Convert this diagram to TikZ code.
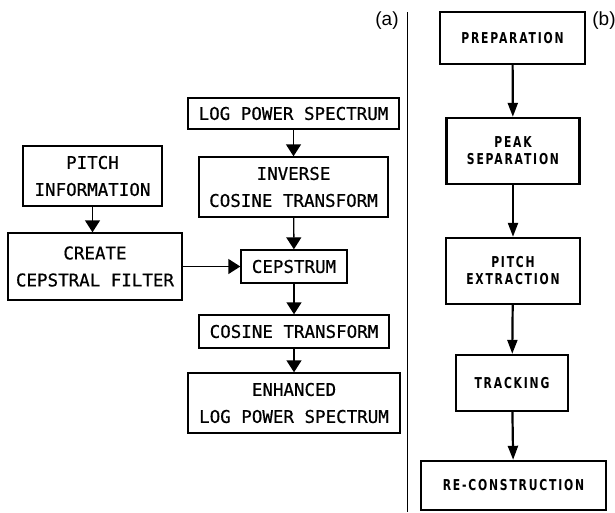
\documentclass[tikz,border=0pt]{standalone}
\usepackage{fontspec}
\setmainfont{Liberation Sans}
\newfontfamily\plotfont[FakeBold=0.6]{DejaVu Sans Mono}
\newfontfamily\boldlabel[FakeStretch=0.72,LetterSpace=12]{DejaVu Sans Bold}
\usetikzlibrary{arrows.meta}
\begin{document}
\begin{tikzpicture}[x=1pt,y=-1pt,
  abox/.style={draw,line width=1.4pt,inner sep=0pt,align=center,
    font=\plotfont\fontsize{17.5}{27}\selectfont},
  bbox/.style={draw,line width=2.4pt,inner sep=0pt,align=center,
    font=\boldlabel\fontsize{15}{17}\selectfont},
  aarr/.style={line width=1.4pt,-{Triangle[length=12pt,width=15pt]}},
  barr/.style={line width=2.2pt,-{Triangle[length=14pt,width=10pt]}},
  panel/.style={font=\fontsize{19}{22}\selectfont}]
\useasboundingbox (0,0) rectangle (615,512);
% panel (a)
\node[abox,minimum width=211pt,minimum height=31pt] (lps) at (293.5,113.5) {LOG POWER SPECTRUM};
\node[abox,minimum width=189pt,minimum height=60pt] (ict) at (293.5,187) {INVERSE\\COSINE TRANSFORM};
\node[abox,minimum width=106pt,minimum height=33pt] (cep) at (294,266.5) {CEPSTRUM};
\node[abox,minimum width=190pt,minimum height=33pt] (cos) at (294,331.5) {COSINE TRANSFORM};
\node[abox,minimum width=212pt,minimum height=60pt] (enh) at (294,403) {ENHANCED\\LOG POWER SPECTRUM};
\node[abox,minimum width=139pt,minimum height=60pt] (pit) at (92.5,176) {PITCH\\INFORMATION};
\node[abox,minimum width=174pt,minimum height=67pt] (ccf) at (95,266.5) {CREATE\\CEPSTRAL FILTER};
\draw[aarr] (lps) -- (ict);
\draw[aarr] (ict) -- (cep);
\draw[aarr] (cep) -- (cos);
\draw[aarr] (cos) -- (enh);
\draw[aarr] (pit.south) -- (pit.south |- ccf.north);
\draw[aarr] (ccf) -- (cep);
\node[panel] (la) at (387,21) {(a)};
% divider
\coordinate (dtop) at (407,12);
\coordinate (dbot) at (407,512);
\draw[line width=1pt] (dtop) -- (dbot);
% panel (b)
\node[bbox,minimum width=145pt,minimum height=52pt] (prep) at (512.5,38) {PREPARATION};
\node[bbox,minimum width=133pt,minimum height=66pt] (peak) at (513,151) {PEAK\\SEPARATION};
\node[bbox,minimum width=134pt,minimum height=66pt] (ptx) at (513,271) {PITCH\\EXTRACTION};
\node[bbox,minimum width=112pt,minimum height=56pt] (trk) at (512,383) {TRACKING};
\node[bbox,minimum width=185pt,minimum height=49pt] (rec) at (513.5,485.5) {RE-CONSTRUCTION};
\draw[barr] (prep) -- (peak);
\draw[barr] (peak) -- (ptx);
\draw[barr] (ptx) -- (trk);
\draw[barr] (trk) -- (rec);
\node[panel] (lb) at (604,21) {(b)};
\end{tikzpicture}
\end{document}
